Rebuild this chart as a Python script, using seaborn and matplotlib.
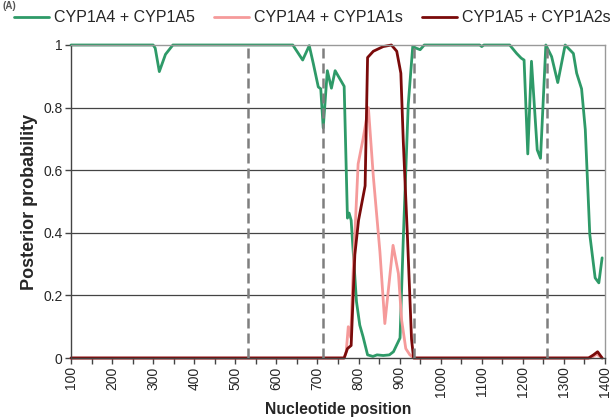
import matplotlib
matplotlib.use("Agg")
import matplotlib.pyplot as plt
from matplotlib.ticker import MultipleLocator, FixedLocator
from matplotlib.lines import Line2D
import seaborn as sns
import pandas as pd

# ---- data ----
series_names = ["CYP1A4 + CYP1A5", "CYP1A4 + CYP1A1s", "CYP1A5 + CYP1A2s"]

pos_a = [100, 300, 305, 315, 330, 348, 640, 664, 680, 690, 702, 708, 714, 724, 734, 743,
         765, 773, 777, 782, 795, 803, 811, 822, 835, 845, 860, 875, 885, 901, 909, 921,
         932, 940, 950, 960, 1095, 1100, 1105, 1168, 1185, 1196, 1203, 1212, 1221, 1235,
         1243, 1256, 1270, 1285, 1303, 1323, 1331, 1343, 1352, 1363, 1376, 1385, 1393]
val_a = [1.0, 1.0, 0.99, 0.915, 0.97, 1.0, 1.0, 0.952, 0.998, 0.94, 0.866, 0.86, 0.735, 0.918,
         0.862, 0.918, 0.868, 0.447, 0.463, 0.44, 0.18, 0.105, 0.068, 0.01, 0.005, 0.01, 0.008,
         0.01, 0.02, 0.064, 0.383, 0.81, 0.996, 0.99, 0.985, 1.0, 1.0, 0.995, 1.0, 1.0, 0.973,
         0.958, 0.952, 0.652, 0.948, 0.665, 0.638, 1.0, 0.963, 0.88, 1.0, 0.973, 0.91, 0.86,
         0.73, 0.394, 0.256, 0.24, 0.32]

pos_b = [100, 765, 770, 775, 781, 787, 799, 811, 824, 836, 852, 864, 884, 897, 905, 915,
         925, 935, 1365, 1380, 1393]
val_b = [0.0, 0.0, 0.02, 0.10, 0.065, 0.28, 0.62, 0.70, 0.80, 0.58, 0.34, 0.11, 0.36, 0.27,
         0.12, 0.03, 0.01, 0.0, 0.0, 0.012, 0.0]

pos_c = [100, 765, 773, 782, 791, 800, 816, 822, 836, 860, 880, 893, 903, 909, 919, 929,
         934, 1360, 1372, 1382, 1393]
val_c = [0.0, 0.0, 0.03, 0.04, 0.33, 0.44, 0.55, 0.96, 0.98, 0.995, 1.0, 0.98, 0.91, 0.69,
         0.39, 0.06, 0.0, 0.0, 0.01, 0.02, 0.0]

breakpoints = [530, 714, 936, 1260]

x_ticks = list(range(100, 1401, 100))
y_ticks = [0, 0.2, 0.4, 0.6, 0.8, 1]
y_ticklabels = ["0", "0.2", "0.4", "0.6", "0.8", "1"]

colors = ["#2e9a68", "#f59a9a", "#7a0a0a"]

# ---- frame ----
rows = []
for name, xs, ys in zip(series_names, [pos_a, pos_b, pos_c], [val_a, val_b, val_c]):
    for x, y in zip(xs, ys):
        rows.append({"pos": x, "prob": y, "pair": name})
df = pd.DataFrame(rows)

sns.set_theme(style="white")
plt.rcParams["font.family"] = ["Liberation Sans", "DejaVu Sans"]

fig = plt.figure(figsize=(6.15, 4.19), dpi=100)
ax = fig.add_axes([71 / 615, 1 - 358 / 419, (605 - 71) / 615, (358 - 45) / 419])

sns.lineplot(data=df, x="pos", y="prob", hue="pair", hue_order=series_names,
             palette=colors, estimator=None, sort=True, linewidth=2.0, ax=ax,
             legend=False, clip_on=False, zorder=2)

for b in breakpoints:
    ax.axvline(b, color="#7f7f7f", linestyle=(0, (4, 2.0)), linewidth=1.8, zorder=3)

for y in [0.2, 0.4, 0.6, 0.8]:
    ax.axhline(y, color="#444444", linewidth=0.9, zorder=1)

ax.set_xlim(100, 1400)
ax.set_ylim(0, 1)
ax.xaxis.set_major_locator(FixedLocator(x_ticks))
ax.xaxis.set_minor_locator(MultipleLocator(50))
ax.set_xticklabels([str(t) for t in x_ticks], rotation=90, fontsize=10)
ax.set_yticks(y_ticks)
ax.set_yticklabels(y_ticklabels, fontsize=10)
ax.tick_params(axis="both", which="both", direction="out", length=4, width=1,
               color="#444444", bottom=True, left=True, pad=2)
ax.tick_params(axis="x", which="minor", length=4)

for s in ["left", "bottom"]:
    ax.spines[s].set_color("#444444")
    ax.spines[s].set_linewidth(1.0)
for s in ["top", "right"]:
    ax.spines[s].set_color("#999999")
    ax.spines[s].set_linewidth(1.0)

ax.set_xlabel("Nucleotide position", fontsize=11.3, fontweight="bold", labelpad=3)
ax.set_ylabel("Posterior probability", fontsize=13, fontweight="bold", labelpad=4)

handles = [Line2D([], [], color=c, linewidth=2.0) for c in colors]
fig.legend(handles, series_names, loc="center", bbox_to_anchor=(312.5 / 615, 1 - 18 / 419),
           ncol=3, frameon=False, fontsize=11.5, handlelength=2.2, handletextpad=0.3,
           columnspacing=1.2, borderaxespad=0, borderpad=0)

fig.text(0.004, 0.998, "(A)", fontsize=7, fontweight="bold", color="#555555",
         va="top", ha="left")

fig.savefig("out.png", dpi=100)
